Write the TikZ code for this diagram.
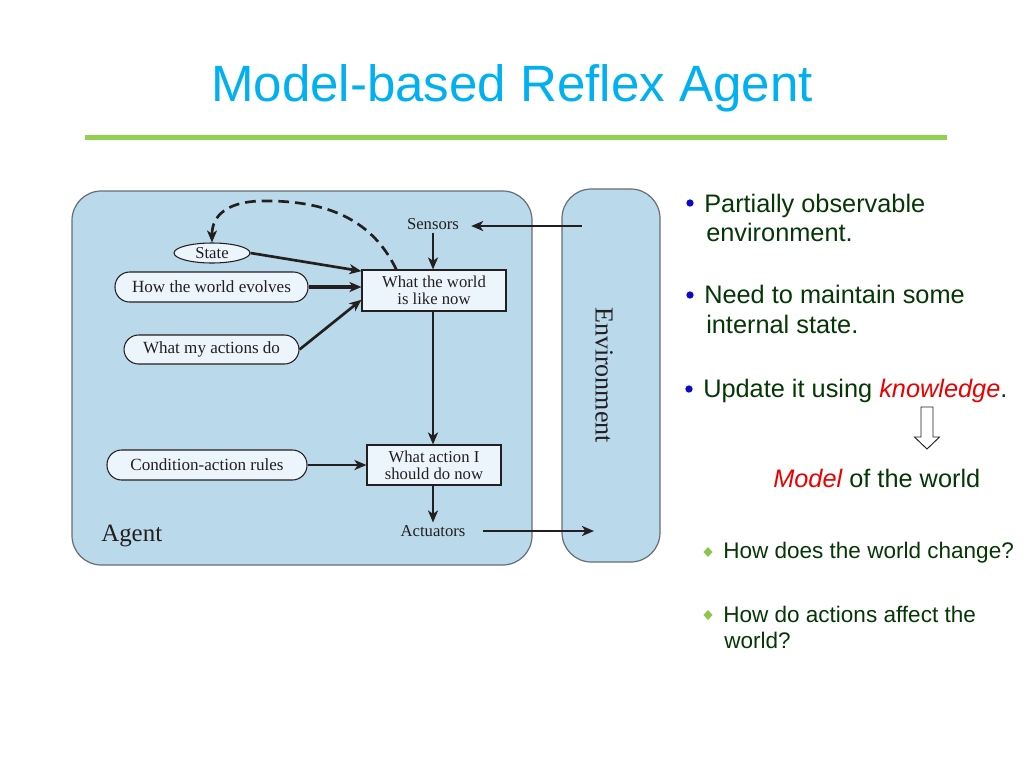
\documentclass[tikz,border=0pt]{standalone}
\usepackage{fontspec}
\setmainfont{Liberation Serif}
\newfontfamily\arial{Liberation Sans}
\usetikzlibrary{arrows.meta,shapes.geometric,calc}
\definecolor{titlecol}{RGB}{0,176,240}
\definecolor{rulegreen}{RGB}{146,208,80}
\definecolor{agentfill}{RGB}{186,217,234}
\definecolor{agentborder}{RGB}{100,110,118}
\definecolor{boxfill}{RGB}{236,245,251}
\definecolor{ink}{RGB}{35,31,32}
\definecolor{txtgreen}{RGB}{5,55,5}
\definecolor{bulblue}{RGB}{10,10,200}
\definecolor{diamgreen}{RGB}{140,198,80}
\definecolor{txtred}{RGB}{235,0,0}
\tikzset{
  panel/.style={draw=agentborder, fill=agentfill, line width=0.9pt, rounded corners=22pt},
  plainlbl/.style={font=\fontsize{12.5}{14}\selectfont, text=ink, inner sep=2pt},
  rectbox/.style={draw=ink, fill=boxfill, line width=0.8pt, align=center, text=ink,
     font=\fontsize{12.5}{13}\selectfont, inner sep=1pt},
  pillbox/.style={draw=ink, fill=boxfill, line width=0.8pt, text=ink, rounded corners=11pt,
     font=\fontsize{12.8}{14}\selectfont, inner sep=1pt},
  ovalbox/.style={draw=ink, fill=boxfill, line width=0.8pt, text=ink, ellipse,
     font=\fontsize{12.5}{14}\selectfont, inner sep=0pt},
  arr/.style={draw=ink, line width=2pt, -{Stealth[length=9pt,width=7.5pt,inset=2.5pt]}},
  dasharr/.style={arr, dash pattern=on 8pt off 4.5pt},
  rtext/.style={font=\arial\fontsize{19}{22}\selectfont, text=txtgreen, anchor=base west, inner sep=0pt},
  stext/.style={font=\arial\fontsize{16.9}{20}\selectfont, text=txtgreen, anchor=base west, inner sep=0pt},
  dotbullet/.style={circle, fill=bulblue, inner sep=0pt, minimum size=5.5pt},
}
\begin{document}
\begin{tikzpicture}[x=0.75pt,y=-0.75pt]
\useasboundingbox (0,0) rectangle (1024,768);
\fill[white] (0,0) rectangle (1024,768);

% title and rule
\node[anchor=base, font=\arial\fontsize{38.3}{42}\selectfont, text=titlecol, inner sep=0pt] (title) at (512,101) {Model-based Reflex Agent};
\draw[rulegreen, line width=3.75pt] (85,137) -- (947,137);

% panels
\draw[panel] (72,191) rectangle (532,565);
\draw[panel] (562,189) rectangle (660,562);
\node[rotate=-90, font=\fontsize{19.5}{22}\selectfont, text=ink] (envtext) at (604,375) {Environment};
\node[anchor=base west, font=\fontsize{18.7}{22}\selectfont, text=ink, inner sep=0pt] (agentlbl) at (101,541) {Agent};

% nodes
\node[plainlbl] (sensors) at (433,224) {Sensors};
\node[plainlbl] (actuators) at (433,531) {Actuators};
\node[rectbox, minimum width=108pt, minimum height=30.75pt] (world) at (434,290.5) {What the world\\is like now};
\node[rectbox, minimum width=100.5pt, minimum height=30pt] (action) at (434,465) {What action I\\should do now};
\node[ovalbox, minimum width=57pt, minimum height=15pt] (state) at (212,253) {State};
\node[pillbox, minimum width=144.75pt, minimum height=22.5pt] (evolves) at (211.5,287) {How the world evolves};
\node[pillbox, minimum width=131.25pt, minimum height=21.75pt] (myact) at (211.5,349.5) {What my actions do};
\node[pillbox, minimum width=150pt, minimum height=22.5pt] (rules) at (207,465) {Condition-action rules};

\coordinate (envS) at (582,226);
\coordinate (envA) at (594,531);

% connectors
\draw[arr] (envS) -- ([xshift=7pt]sensors.east |- envS);
\draw[arr] (sensors.south) -- (sensors.south |- world.north);
\draw[arr] (state.east) -- ($(world.north west)!0.04!(world.south west)$);
\draw[arr, line width=3pt] (evolves.east) -- (world.west |- evolves.east);
\draw[arr] (myact.east) -- ($(world.north west)!0.72!(world.south west)$);
\draw[dasharr] ($(world.north west)!0.24!(world.north east)$) .. controls (370,215) and (320,200) .. (260,201) .. controls (228,202) and (212,215) .. (state.north);
\draw[arr] (sensors.south |- world.south) -- (sensors.south |- action.north);
\draw[arr] (rules.east) -- (action.west |- rules.east);
\draw[arr] (sensors.south |- action.south) -- (actuators.north);
\draw[arr, shorten <=11pt] (actuators.east) -- (envA);

% right side text
\node[dotbullet] (b1) at (690,203) {};
\node[rtext] (t1) at (704,212) {Partially observable};
\node[rtext] (t1b) at (706,241) {environment.};
\node[dotbullet] (b2) at (690,295) {};
\node[rtext] (t2) at (704,303) {Need to maintain some};
\node[rtext] (t2b) at (706,333) {internal state.};
\node[dotbullet] (b3) at (689,389) {};
\node[rtext] (t3) at (703,397) {Update it using \textcolor{txtred}{\itshape knowledge}.};

\draw[ink, fill=white, line width=0.7pt] (921,407) -- (933,407) -- (933,437) -- (939.5,437) -- (927,449) -- (914.5,437) -- (921,437) -- cycle;

\node[rtext] (t4) at (773,487) {\textcolor{txtred}{\itshape Model} of the world};

\fill[diamgreen] (708,547) -- (712.5,552) -- (708,557) -- (703.5,552) -- cycle;
\node[stext] (t5) at (723,558) {How does the world change?};
\fill[diamgreen] (708,610) -- (712.5,615) -- (708,620) -- (703.5,615) -- cycle;
\node[stext] (t6) at (723,622) {How do actions affect the};
\node[stext] (t6b) at (724,648) {world?};
\end{tikzpicture}
\end{document}
